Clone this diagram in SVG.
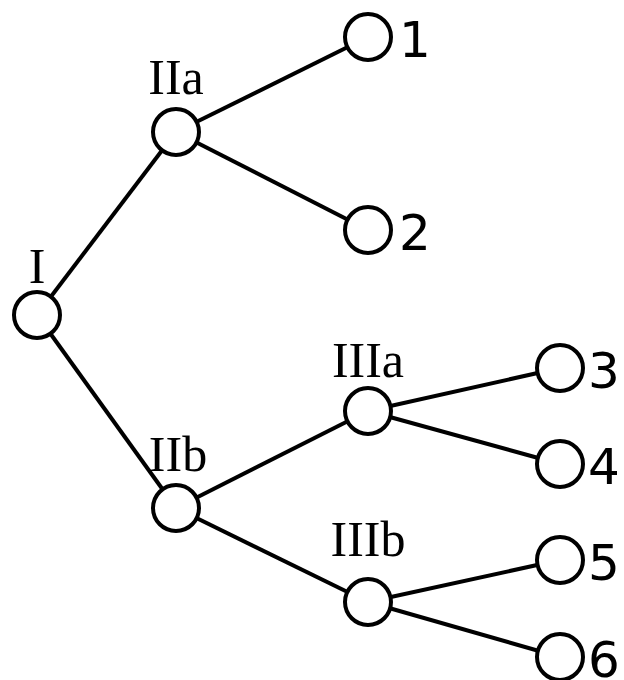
<svg xmlns="http://www.w3.org/2000/svg" width="624" height="680" viewBox="0 0 624 680">
<style>
.n{fill:#fff;stroke:#000;stroke-width:4}
.e line{stroke:#000;stroke-width:4}
.r{font-family:"Liberation Serif","DejaVu Serif",serif;font-size:50px;text-anchor:middle;fill:#000}
.d{font-family:"DejaVu Sans","Liberation Sans",sans-serif;font-size:50px;fill:#000}
</style>
<rect width="624" height="680" fill="#fff"/>
<g id="connectors" class="e">
<line x1="37" y1="315" x2="176" y2="132"/>
<line x1="37" y1="315" x2="176" y2="508"/>
<line x1="176" y1="132" x2="368" y2="37"/>
<line x1="176" y1="132" x2="368" y2="230"/>
<line x1="176" y1="508" x2="368" y2="411"/>
<line x1="176" y1="508" x2="368" y2="602"/>
<line x1="368" y1="411" x2="560" y2="368"/>
<line x1="368" y1="411" x2="560" y2="464"/>
<line x1="368" y1="602" x2="560" y2="560"/>
<line x1="368" y1="602" x2="560" y2="657"/>
</g>
<g id="nI"><circle class="n" cx="37" cy="315" r="23"/><text class="r" x="37" y="283">I</text></g>
<g id="nIIa"><circle class="n" cx="176" cy="132" r="23"/><text class="r" x="176" y="94">IIa</text></g>
<g id="nIIb"><circle class="n" cx="176" cy="508" r="23"/><text class="r" x="178" y="471">IIb</text></g>
<g id="nIIIa"><circle class="n" cx="368" cy="411" r="23"/><text class="r" x="368" y="377">IIIa</text></g>
<g id="nIIIb"><circle class="n" cx="368" cy="602" r="23"/><text class="r" x="368" y="556">IIIb</text></g>
<g id="n1"><circle class="n" cx="368" cy="37" r="23"/><text class="d" x="399" y="57">1</text></g>
<g id="n2"><circle class="n" cx="368" cy="230" r="23"/><text class="d" x="399" y="250">2</text></g>
<g id="n3"><circle class="n" cx="560" cy="368" r="23"/><text class="d" x="588" y="388">3</text></g>
<g id="n4"><circle class="n" cx="560" cy="464" r="23"/><text class="d" x="588" y="484">4</text></g>
<g id="n5"><circle class="n" cx="560" cy="560" r="23"/><text class="d" x="588" y="580">5</text></g>
<g id="n6"><circle class="n" cx="560" cy="657" r="23"/><text class="d" x="588" y="677">6</text></g>
</svg>
